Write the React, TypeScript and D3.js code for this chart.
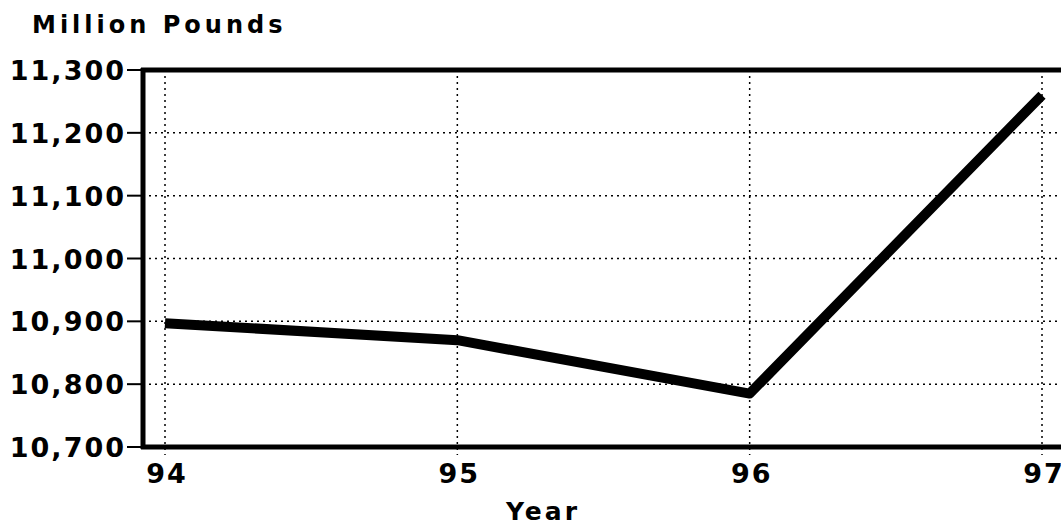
import { useRef, useEffect } from 'react'
import * as d3 from 'd3'

// values
const years = ['94', '95', '96', '97']
const pounds = [10897, 10870, 10785, 11260]
const yTicks = [10700, 10800, 10900, 11000, 11100, 11200, 11300]

const W = 1061
const H = 530
const font = "'DejaVu Sans', Arial, sans-serif"

const App = () => {
  const ref = useRef<SVGSVGElement>(null)

  useEffect(() => {
    const svg = d3.select(ref.current)
    svg.selectAll('*').remove()

    const left = 143
    const top = 70
    const bottom = 447
    const right = 1075

    const x = d3.scalePoint().domain(years).range([165, 1042])
    const y = d3.scaleLinear().domain([10700, 11300]).range([bottom, top])

    const g = svg.append('g')

    // dotted grid
    g.selectAll('line.hgrid')
      .data(yTicks.slice(1, -1))
      .join('line')
      .attr('class', 'hgrid')
      .attr('x1', left).attr('x2', right)
      .attr('y1', d => y(d)).attr('y2', d => y(d))
      .attr('stroke', '#000').attr('stroke-width', 1.5)
      .attr('stroke-dasharray', '2,4')

    g.selectAll('line.vgrid')
      .data(years)
      .join('line')
      .attr('class', 'vgrid')
      .attr('x1', d => x(d)!).attr('x2', d => x(d)!)
      .attr('y1', top).attr('y2', bottom + 8)
      .attr('stroke', '#000').attr('stroke-width', 1.5)
      .attr('stroke-dasharray', '2,4')

    // frame
    g.append('line').attr('x1', left - 2).attr('x2', right).attr('y1', top).attr('y2', top)
      .attr('stroke', '#000').attr('stroke-width', 5)
    g.append('line').attr('x1', left - 2).attr('x2', right).attr('y1', bottom).attr('y2', bottom)
      .attr('stroke', '#000').attr('stroke-width', 5)
    g.append('line').attr('x1', left).attr('x2', left).attr('y1', top - 2).attr('y2', bottom + 2)
      .attr('stroke', '#000').attr('stroke-width', 5)

    // y ticks + labels
    g.selectAll('line.ytick')
      .data(yTicks)
      .join('line')
      .attr('class', 'ytick')
      .attr('x1', 127).attr('x2', left)
      .attr('y1', d => y(d)).attr('y2', d => y(d))
      .attr('stroke', '#000').attr('stroke-width', 2)

    g.selectAll('text.ylab')
      .data(yTicks)
      .join('text')
      .attr('class', 'ylab')
      .attr('x', 126)
      .attr('y', d => y(d) + 10)
      .attr('text-anchor', 'end')
      .attr('font-family', font)
      .attr('font-weight', 'bold')
      .attr('font-size', 27)
      .attr('letter-spacing', 2)
      .text(d => d3.format(',')(d))

    // x labels
    g.selectAll('text.xlab')
      .data(years)
      .join('text')
      .attr('class', 'xlab')
      .attr('x', d => x(d)! + 2)
      .attr('y', 483)
      .attr('text-anchor', 'middle')
      .attr('font-family', font)
      .attr('font-weight', 'bold')
      .attr('font-size', 27)
      .attr('letter-spacing', 2)
      .text(d => d)

    // data line
    const line = d3.line<number>()
      .x((_, i) => x(years[i])!)
      .y(d => y(d))
    g.append('path')
      .datum(pounds)
      .attr('d', line)
      .attr('fill', 'none')
      .attr('stroke', '#000')
      .attr('stroke-width', 10)
      .attr('stroke-linejoin', 'round')

    // titles
    g.append('text')
      .attr('x', 32).attr('y', 33)
      .attr('font-family', font)
      .attr('font-weight', 'bold')
      .attr('font-size', 24)
      .attr('letter-spacing', 4)
      .text('Million Pounds')

    g.append('text')
      .attr('x', 543).attr('y', 520)
      .attr('text-anchor', 'middle')
      .attr('font-family', font)
      .attr('font-weight', 'bold')
      .attr('font-size', 25)
      .attr('letter-spacing', 3)
      .text('Year')
  }, [])

  return (
    <svg ref={ref} width={W} height={H}
      style={{ position: 'absolute', left: 0, top: 0, background: '#fff' }} />
  )
}

export default App
